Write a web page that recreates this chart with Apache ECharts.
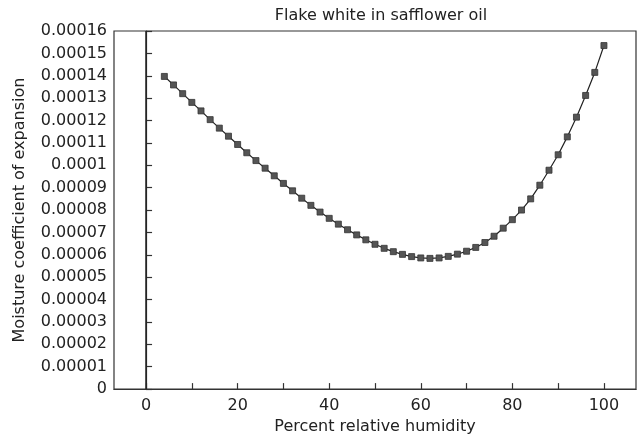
<!DOCTYPE html>
<html>
<head>
<meta charset="utf-8">
<script src="https://cdn.jsdelivr.net/npm/echarts@6/dist/echarts.min.js"></script>
<style>html,body{margin:0;padding:0;background:#fff}#c{width:639px;height:440px}</style>
</head>
<body>
<div id="c"></div>
<script>
const chartTitle = 'Flake white in safflower oil';
const xName = 'Percent relative humidity';
const yName = 'Moisture coefficient of expansion';
const humidity = [4,6,8,10,12,14,16,18,20,22,24,26,28,30,32,34,36,38,40,42,44,46,48,50,52,54,56,58,60,62,64,66,68,70,72,74,76,78,80,82,84,86,88,90,92,94,96,98,100];
const coeffMicro = [139.7,135.9,132.0,128.1,124.3,120.4,116.6,113.0,109.3,105.6,102.1,98.7,95.3,91.9,88.6,85.3,82.1,79.1,76.3,73.7,71.2,68.9,66.7,64.7,62.9,61.4,60.2,59.2,58.6,58.4,58.6,59.3,60.3,61.6,63.3,65.5,68.3,71.9,75.7,80.0,85.0,91.1,97.8,104.7,112.7,121.5,131.2,141.5,153.5];
const xTicks = [0,10,20,30,40,50,60,70,80,90,100];
const xLabels = [0,20,40,60,80,100];

const data = humidity.map((h, i) => [h, coeffMicro[i] * 1e-6]);
const font = 'DejaVu Sans';

const chart = echarts.init(document.getElementById('c'), null, {renderer: 'canvas'});
chart.setOption({
  animation: false,
  backgroundColor: '#fff',
  title: {
    text: chartTitle,
    left: 376, top: 3, textAlign: 'center',
    textStyle: {fontFamily: font, fontSize: 16, fontWeight: 'normal', color: '#222'}
  },
  grid: {left: 114, right: 3, top: 31, bottom: 49, show: true, borderColor: '#333', borderWidth: 1.2, containLabel: false},
  xAxis: {
    type: 'value', min: -7, max: 107,
    name: xName, nameLocation: 'middle', nameGap: 28,
    nameTextStyle: {fontFamily: font, fontSize: 16, color: '#222'},
    axisLine: {show: true, onZero: false, lineStyle: {color: '#333', width: 1.2}},
    axisTick: {show: true, inside: true, length: 6, customValues: xTicks, lineStyle: {color: '#333', width: 1.2}},
    axisLabel: {customValues: xLabels, margin: 9, fontFamily: font, fontSize: 16, color: '#222'},
    splitLine: {show: false}
  },
  yAxis: {
    type: 'value', min: 0, max: 0.00016, interval: 0.00001,
    name: yName, nameLocation: 'middle', nameGap: 86, nameRotate: 90,
    nameTextStyle: {fontFamily: font, fontSize: 16, color: '#222'},
    axisLine: {show: true, lineStyle: {color: '#333', width: 1.2}},
    axisTick: {show: true, inside: true, length: 6, lineStyle: {color: '#333', width: 1.2}},
    axisLabel: {
      margin: 7, fontFamily: font, fontSize: 16, color: '#222',
      formatter: v => v === 0 ? '0' : String(parseFloat(v.toFixed(5)))
    },
    splitLine: {show: false}
  },
  series: [{
    type: 'line',
    data: data,
    symbol: 'rect', symbolSize: 6,
    itemStyle: {color: '#555', borderColor: '#333', borderWidth: 0.8},
    lineStyle: {color: '#222', width: 1.2},
    markLine: {
      silent: true, symbol: 'none', label: {show: false},
      lineStyle: {color: '#222', width: 1.5, type: 'solid'},
      data: [{xAxis: 0}]
    }
  }]
});
</script>
</body>
</html>
